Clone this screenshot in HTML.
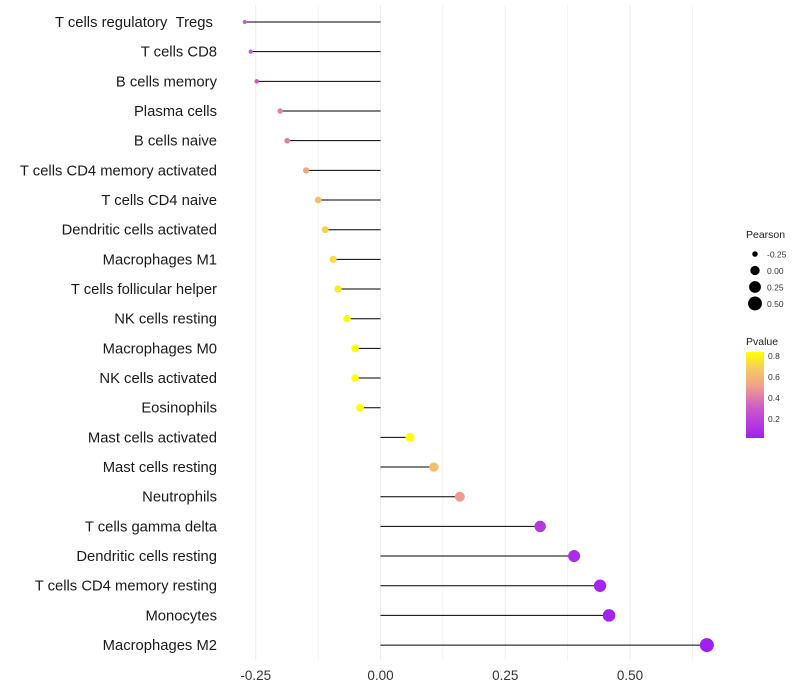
<!DOCTYPE html>
<html><head><meta charset="utf-8"><style>
body{margin:0;background:#fff;}
svg{display:block;font-family:"Liberation Sans",Arial,sans-serif;}
</style></head><body>
<svg id="chart" width="800" height="700" viewBox="0 0 800 700">
<g id="grid"></g>
<g id="marks"></g>
<g id="ylab"></g>
<g id="xlab"></g>
<g id="legend"></g>
</svg>
<script>
const categories=["T cells regulatory \u00a0Tregs\u00a0","T cells CD8","B cells memory","Plasma cells","B cells naive","T cells CD4 memory activated","T cells CD4 naive","Dendritic cells activated","Macrophages M1","T cells follicular helper","NK cells resting","Macrophages M0","NK cells activated","Eosinophils","Mast cells activated","Mast cells resting","Neutrophils","T cells gamma delta","Dendritic cells resting","T cells CD4 memory resting","Monocytes","Macrophages M2"];
const pearson=[-0.272,-0.26,-0.248,-0.201,-0.187,-0.149,-0.125,-0.111,-0.095,-0.085,-0.067,-0.051,-0.051,-0.041,0.059,0.107,0.159,0.32,0.388,0.44,0.458,0.654];
const pvalues=[0.3,0.3,0.3,0.42,0.42,0.55,0.64,0.7,0.74,0.78,0.82,0.85,0.85,0.86,0.84,0.64,0.5,0.15,0.08,0.05,0.04,0.01];
const xTicks=[-0.25,0,0.25,0.5];
const xTickLabels=["-0.25","0.00","0.25","0.50"];
const sizeLegend=[-0.25,0,0.25,0.5];
const sizeLegendLabels=["-0.25","0.00","0.25","0.50"];
const colorTicks=[0.2,0.4,0.6,0.8];

const NS="http://www.w3.org/2000/svg";
const x=v=>380.5+v*499;
const y=i=>22+i*29.67;
const r=v=>Math.sqrt(4+(v+0.272)/0.926*45);
const stops=[[0,[160,32,240]],[0.35,[204,90,200]],[0.6,[240,160,140]],[0.8,[245,200,100]],[1,[255,255,0]]];
function col(p){const t=Math.max(0,Math.min(1,(p-0.02)/0.82));
 for(let k=1;k<stops.length;k++){if(t<=stops[k][0]){const a=stops[k-1],b=stops[k],u=(t-a[0])/(b[0]-a[0]);
  return `rgb(${[0,1,2].map(j=>Math.round(a[1][j]+(b[1][j]-a[1][j])*u)).join(',')})`;}}
 return 'rgb(255,255,0)';}
const cy=p=>419-(p-0.2)*105;
function mk(parent,tag,attrs){const e=document.createElementNS(NS,tag);for(const k in attrs)e.setAttribute(k,attrs[k]);document.getElementById(parent).appendChild(e);return e;}

for(let v=-0.25;v<=0.626;v+=0.125){
 const g=mk('grid','line',{x1:x(v),x2:x(v),y1:5,y2:660,stroke:'#ebebeb','stroke-width':Math.abs(v*8-Math.round(v*8))<1e-6&&Math.round(v*8)%2===0?1:0.6});
 
 
}
categories.forEach((c,i)=>{
 const l=mk('marks','line',{x1:x(0),x2:x(pearson[i]),y1:y(i),y2:y(i),stroke:'#000','stroke-width':1});
 
 
 const d=mk('marks','circle',{cx:x(pearson[i]),cy:y(i),r:r(pearson[i]),fill:col(pvalues[i])});
 
 
 const t=mk('ylab','text',{x:217,y:y(i)+5,'text-anchor':'end','font-size':14.8,fill:'#1a1a1a'});
 t.textContent=c;
 
 
});
xTicks.forEach((v,i)=>{
 const t=mk('xlab','text',{x:x(v),y:680,'text-anchor':'middle','font-size':13.5,fill:'#333'});
 t.textContent=xTickLabels[i];
 
 
});
let t=mk('legend','text',{x:746,y:238,'font-size':10.5,fill:'#1a1a1a'});t.textContent='Pearson';


sizeLegend.forEach((v,i)=>{
 const c=mk('legend','circle',{cx:755,cy:254+i*16.5,r:r(v)+0.5,fill:'#000'});
 
 
 const l=mk('legend','text',{x:767,y:257.5+i*16.5,'font-size':8.5,fill:'#333'});l.textContent=sizeLegendLabels[i];
 
 
});
t=mk('legend','text',{x:746,y:345,'font-size':10.5,fill:'#1a1a1a'});t.textContent='Pvalue';


const defs=document.createElementNS(NS,'defs');document.getElementById('chart').prepend(defs);
defs.innerHTML='<linearGradient id="pg" x1="0" y1="1" x2="0" y2="0"><stop offset="0" stop-color="rgb(160,32,240)"/><stop offset="0.35" stop-color="rgb(204,90,200)"/><stop offset="0.6" stop-color="rgb(240,160,140)"/><stop offset="0.8" stop-color="rgb(245,200,100)"/><stop offset="1" stop-color="rgb(255,255,0)"/></linearGradient>';
const bar=mk('legend','rect',{x:746,y:352,width:18,height:86,fill:'url(#pg)'});


colorTicks.forEach(p=>{
 const l=mk('legend','text',{x:768,y:cy(p)+3,'font-size':8.5,fill:'#333'});l.textContent=String(p);
 
 
});
</script>
</body></html>
